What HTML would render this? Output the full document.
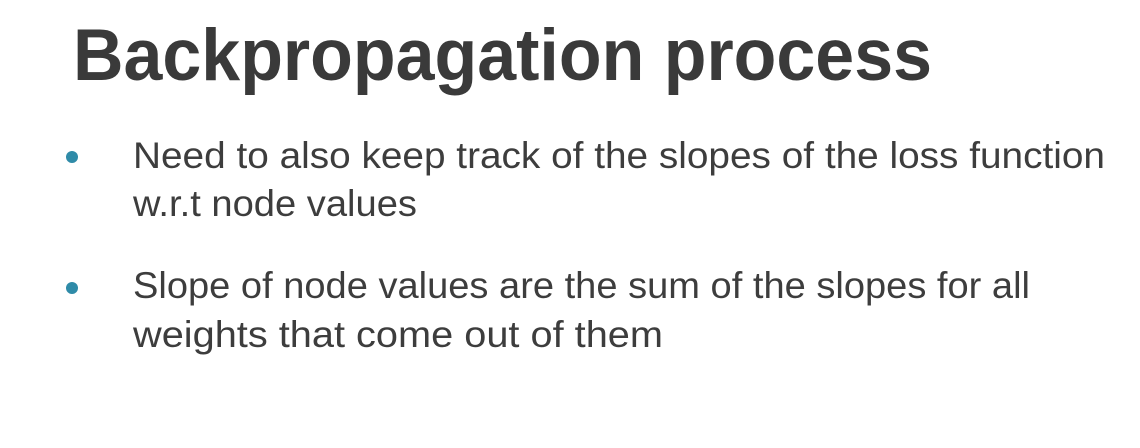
<!DOCTYPE html>
<html><head><style>html,body{margin:0;padding:0;background:#fff;width:1140px;height:448px;overflow:hidden}</style></head>
<body>
<svg width="1140" height="448" xmlns="http://www.w3.org/2000/svg" font-family="'Liberation Sans', sans-serif">
<rect width="1140" height="448" fill="#fff"/>
<text x="73" y="80" font-size="73" font-weight="bold" fill="#3a3a3a" textLength="859" lengthAdjust="spacingAndGlyphs">Backpropagation process</text>
<circle cx="72" cy="157" r="6" fill="#2f8ba8"/>
<circle cx="72" cy="288" r="6" fill="#2f8ba8"/>
<g font-size="37" fill="#3d3d3d">
<text x="133" y="168" textLength="972" lengthAdjust="spacingAndGlyphs">Need to also keep track of the slopes of the loss function</text>
<text x="133" y="216" textLength="284" lengthAdjust="spacingAndGlyphs">w.r.t node values</text>
<text x="133" y="298" textLength="897" lengthAdjust="spacingAndGlyphs">Slope of node values are the sum of the slopes for all</text>
<text x="133" y="347" textLength="530" lengthAdjust="spacingAndGlyphs">weights that come out of them</text>
</g>
</svg>
</body></html>
